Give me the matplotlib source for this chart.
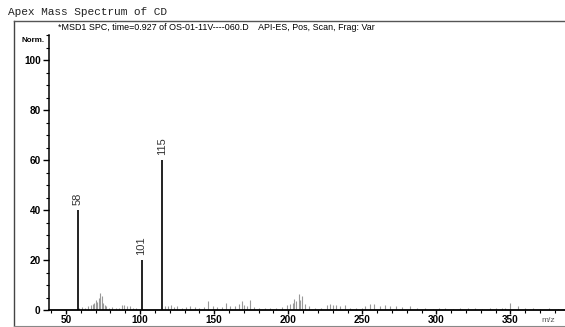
import matplotlib.pyplot as plt
from matplotlib.lines import Line2D
from matplotlib.ticker import MultipleLocator

# main labelled peaks
peak_mz = [58, 101, 115]
peak_int = [40, 20, 60]

# small background peaks (m/z, normalised abundance)
noise_mz = [59, 61, 63, 65, 67, 68, 69, 70, 71, 72, 73, 74, 75, 76, 77, 79, 81, 84, 86, 88, 89, 91, 93, 95, 97,
            117, 119, 121, 123, 125, 128, 131, 134, 137, 140, 143, 146, 149, 152, 155, 158, 161, 164, 167, 169,
            170, 172, 174, 177, 180, 184, 188, 192, 196, 199, 201, 203, 204, 205, 207, 208, 209, 211, 214, 218,
            222, 226, 228, 230, 232, 235, 238, 242, 246, 250, 252, 255, 258, 262, 265, 269, 273, 277, 282, 287,
            292, 298, 302, 306, 311, 316, 321, 326, 331, 336, 340, 344, 346, 350, 355, 360, 365, 370, 376, 382, 387]
noise_int = [1.0, 1.2, 0.8, 1.5, 2.0, 2.5, 3.0, 4.0, 3.2, 5.0, 7.0, 5.5, 3.0, 2.2, 1.5, 1.0, 1.2, 0.8, 1.0, 2.0,
             2.2, 1.5, 1.8, 1.0, 0.8,
             1.8, 1.5, 2.0, 1.2, 1.5, 1.0, 1.3, 1.5, 1.2, 1.0, 1.4, 3.6, 1.5, 1.2, 1.3, 3.0, 1.5, 1.8, 2.5, 3.5,
             2.0, 1.5, 4.0, 1.2, 1.0, 1.0, 0.8, 1.0, 1.2, 2.0, 2.5, 3.0, 4.5, 3.5, 6.5, 4.0, 5.5, 2.5, 1.5, 1.0,
             0.8, 2.0, 2.5, 2.2, 2.0, 1.5, 2.0, 1.0, 0.8, 1.0, 1.5, 2.5, 2.5, 1.5, 2.0, 1.8, 1.5, 1.2, 1.5, 1.0,
             0.8, 0.5, 1.0, 0.8, 0.6, 0.8, 0.7, 0.9, 0.6, 0.8, 1.0, 0.7, 1.0, 3.0, 1.5, 0.8, 0.7, 0.6, 0.8, 0.6, 0.5]

plt.rcParams['font.family'] = ['Liberation Sans', 'DejaVu Sans']

fig = plt.figure(figsize=(5.65, 3.27), dpi=100)
ax = fig.add_axes([49 / 565, 17 / 327, 520 / 565, 275 / 327])

ax.vlines(noise_mz, 0, noise_int, color='#999999', linewidth=0.8)
ax.vlines(peak_mz, 0, peak_int, color='#222222', linewidth=1.4)
for mz, inten in zip(peak_mz, peak_int):
    ax.text(mz, inten + 2, str(mz), rotation=90, ha='center', va='bottom',
            fontsize=8, color='#333333')

ax.set_xlim(38.5, 389.5)
ax.set_ylim(0, 110)
ax.set_xticks([50, 100, 150, 200, 250, 300, 350])
ax.set_yticks([0, 20, 40, 60, 80, 100])
ax.xaxis.set_minor_locator(MultipleLocator(10))
ax.yaxis.set_minor_locator(MultipleLocator(5))
ax.tick_params(axis='both', which='major', labelsize=7.2, length=4, width=1, direction='out', pad=2)
ax.tick_params(axis='x', which='major', length=3, pad=0.5)
ax.tick_params(axis='both', which='minor', length=2, width=0.8, direction='out')
for lab in ax.get_xticklabels() + ax.get_yticklabels():
    lab.set_fontweight('bold')
ax.spines['top'].set_visible(False)
ax.spines['right'].set_visible(False)
ax.spines['left'].set_linewidth(1.1)
ax.spines['bottom'].set_linewidth(1.3)

# surrounding frame
fig.add_artist(Line2D([14 / 565, 14 / 565], [1 - 21 / 327, 1 - 326 / 327], color='#444444', linewidth=1.0))
fig.add_artist(Line2D([14 / 565, 1.0], [1 - 21 / 327, 1 - 21 / 327], color='#555555', linewidth=1.0))
fig.add_artist(Line2D([14 / 565, 1.0], [1 - 326 / 327, 1 - 326 / 327], color='#888888', linewidth=0.8))

fig.text(8 / 565, 1 - 12 / 327, 'Apex Mass Spectrum of CD', family='Liberation Mono',
         fontsize=8, va='center', ha='left', color='#222222')
fig.text(58 / 565, 1 - 27 / 327, '*MSD1 SPC, time=0.927 of OS-01-11V----060.D    API-ES, Pos, Scan, Frag: Var',
         fontsize=6.4, va='center', ha='left')
fig.text(22 / 565, 1 - 40 / 327, 'Norm.', fontsize=5.8, fontweight='bold', va='center', ha='left')
fig.text(541 / 565, 1 - 321 / 327, 'm/z', fontsize=6, va='center', ha='left', color='#555555')

fig.savefig('out.png', dpi=100)
